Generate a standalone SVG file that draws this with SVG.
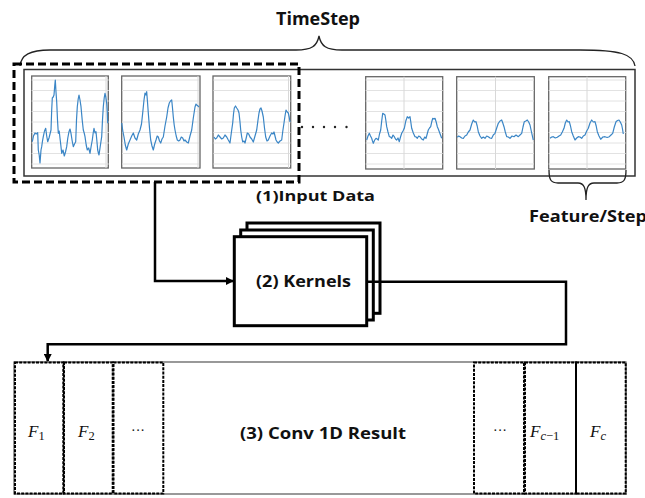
<svg xmlns="http://www.w3.org/2000/svg" width="645" height="498" viewBox="0 0 645 498">
<style>
.lbl{font-family:"Open Sans","Noto Sans",sans-serif;font-weight:bold;fill:#111;}
.math{font-family:"Liberation Serif","DejaVu Serif",serif;font-style:italic;fill:#111;font-size:17px;}
.sub{font-style:normal;font-size:12.5px;}
.subi{font-style:italic;font-size:12.5px;}
.plot{fill:#fff;stroke:#666;stroke-width:1.3;}
.grid{stroke:#e2e2e2;stroke-width:1;}
.vgrid{stroke:#d8d8d8;stroke-width:1;}
.sig{fill:none;stroke:#3b86c6;stroke-width:1.2;stroke-linejoin:round;}
.brace{fill:none;stroke:#222;stroke-width:1.3;}
.conn{fill:none;stroke:#000;stroke-width:2.5;}
.kern{fill:#fff;stroke:#000;stroke-width:3;}
.cell{fill:none;stroke:#000;stroke-width:2;stroke-dasharray:3 1.2;}
</style>
<defs>
<g id="hgrid">
<line class="grid" x1="0" y1="4" x2="77" y2="4"/>
<line class="grid" x1="0" y1="14.5" x2="77" y2="14.5"/>
<line class="grid" x1="0" y1="25" x2="77" y2="25"/>
<line class="grid" x1="0" y1="35.5" x2="77" y2="35.5"/>
<line class="grid" x1="0" y1="46" x2="77" y2="46"/>
<line class="grid" x1="0" y1="56.5" x2="77" y2="56.5"/>
<line class="grid" x1="0" y1="67" x2="77" y2="67"/>
<line class="grid" x1="0" y1="77.5" x2="77" y2="77.5"/>
<line class="grid" x1="0" y1="88" x2="77" y2="88"/>
</g>
<marker id="ah" markerWidth="8" markerHeight="8" refX="7" refY="4" orient="auto" markerUnits="userSpaceOnUse">
<path d="M0,0 L8,4 L0,8 Z" fill="#000"/>
</marker>
</defs>

<g id="timestep-label">
<text class="lbl" x="318" y="25" font-size="18" text-anchor="middle">TimeStep</text>
<path class="brace" d="M20,66 C21,55 30,50 50,50 H296 C312,50 317,46 319,36 C321,46 326,50 342,50 H580 C620,50 633,54 635,66"/>
</g>

<g id="input-data">
<rect x="24" y="69.5" width="611" height="106.5" fill="none" stroke="#333" stroke-width="1.5"/>

<g id="plot1">
<rect class="plot" x="31.7" y="76" width="76.6" height="92"/>
<use href="#hgrid" transform="translate(31.7,76)"/>
<line class="vgrid" x1="106" y1="76" x2="106" y2="168"/>
<polyline class="sig" points="32.3,141.7 33.5,136 35,133 36.2,134 37.7,132.7 38.3,150 39.2,155 40,163 41,150 41.7,146.7 42.5,141 43.3,136.7 44.5,131 45.7,128.3 46.7,136 47.7,141.7 49,138 50,134 51,130 51.7,110 52.3,98 53.2,97 54,95 54.8,85 55.3,80 56,92 56.7,101.7 57.5,120 58.3,133.3 59.2,131 60,138.3 60.8,145 61.7,153.3 63,150 64.3,156 65.5,152 66.7,146.7 67.8,138 69,131.7 70,129 71,133.3 72.2,141 73.3,146.7 74.5,144 75.7,141.7 76.5,120 77.3,106.7 78.2,99 79,95 80,100 81,106.7 82.2,120 83.3,130 84.2,133 85,136.7 86.2,145 87.3,150 88.7,148 90,153.3 91.2,146 92.3,140 93.2,133 94,128.3 95,133 96,131.7 96.8,140 97.7,150 98.4,153 99,155 100.3,146 101.7,136.7 102.5,120 103.3,106.7 104.2,98 105,93.3 105.8,97 106.7,103.3 107.3,112 107.7,123.3"/>
</g>

<g id="plot2">
<rect class="plot" x="121.7" y="76" width="78.3" height="92"/>
<use href="#hgrid" transform="translate(122,76)"/>
<line class="vgrid" x1="198" y1="76" x2="198" y2="168"/>
<polyline class="sig" points="121.7,123 122.8,131 124,137 125.3,145 126.7,150 128.3,144 130,140 131.7,136 133.3,133 135,138 136.7,140 138.3,134 140,130 141.5,124 142.7,113 144,100 145,93 146,95 146.7,91.7 147.5,102 148.3,113 149.5,128 150.7,140 152,146 153.3,150 154.7,144 156,140 157.2,136 158.3,137 159.5,141 160.7,143 162,139 163.3,137 165,126 166.7,117 168,108 169.3,103 170.5,101 171.7,100 172.5,108 173.3,117 174.2,125 175,130 176.2,136 177.3,140 178.7,141 180,140 181.3,137 182.7,138 184,141 185,140 186.7,142 188.3,143 190,136 191.7,130 193.3,118 195,107 196,104 196.7,105 198,106 199,107"/>
</g>

<g id="plot3">
<rect class="plot" x="213" y="76" width="77.7" height="92"/>
<use href="#hgrid" transform="translate(213.5,76)"/>
<line class="vgrid" x1="288.5" y1="76" x2="288.5" y2="168"/>
<polyline class="sig" points="214,137 215.3,139 216.7,138 218.3,135 220,137 221.7,139 223.3,138 225,135 226.7,137 228.3,140 230,143 231.3,133 232.7,123 233.5,114 234.3,108 235.5,106 236.7,108 238,110 239,113 240,122 240.7,130 241.7,137 242.7,142 244,141 245,143 246.2,138 247.3,133 248.7,134 250,137 251.7,139 253.3,142 255,136 256.7,130 258,120 259,113 260,109 261,108 262,111 263.3,117 264.5,128 265.7,137 267,141 268.3,140 270,136 271.7,133 273,134 274,132 275,136 276,140 277.2,142 278.3,143 280,141 281.7,140 282.8,131 284,123 285,116 286,110 287.2,112 288.3,113 289.2,117 290,122"/>
</g>

<g id="dots" fill="#222">
<circle cx="302" cy="127" r="1.2"/>
<circle cx="313" cy="127" r="1.2"/>
<circle cx="324" cy="127" r="1.2"/>
<circle cx="335" cy="127" r="1.2"/>
<circle cx="346.5" cy="127" r="1.2"/>
</g>

<g id="plot4">
<rect class="plot" x="365.7" y="76.7" width="77" height="92.3"/>
<use href="#hgrid" transform="translate(365.7,76)"/>
<line class="vgrid" x1="404" y1="76.7" x2="404" y2="169"/>
<polyline class="sig" points="366.7,140 368,136 369.3,133.3 370.5,136 371.7,138.3 372.5,141 373.3,143.3 374.7,140 376,138.3 377.2,139 378.3,140 379.5,134 380.7,130 381.7,121 382.7,113.3 383.8,114 385,115 385.8,120 386.7,126.7 388,132 389.3,136.7 390.5,137 391.7,138.3 393,135 394.3,136.7 395.5,139 396.7,140 398,138 399.3,141.7 400.5,137 401.7,133.3 403,131 404.3,128.3 405.8,121 407.3,116.7 408.7,118 410,116.7 410.8,122 411.7,128.3 413.3,133 415,136.7 416.2,137 417.3,138.3 418.7,136 420,136.7 421.7,139 423.3,140 424.7,137 426,138.3 427.2,134 428.3,130 429.5,128 430.7,126.7 431.7,122 432.7,118.3 434,119 435,118.3 436.2,122 437.3,126.7 438.3,129 439.3,131.7 440.5,135 441.7,138.3"/>
</g>

<g id="plot5">
<rect class="plot" x="456.7" y="76.7" width="77.6" height="92.3"/>
<use href="#hgrid" transform="translate(457,76)"/>
<line class="vgrid" x1="495.5" y1="76.7" x2="495.5" y2="169"/>
<polyline class="sig" points="457.3,137.3 458.7,136 460,136.7 461.7,138 463.3,138.3 465,136 466.7,135 468.3,132 470,130 471.7,124 473.3,120 474.7,122 476,121.7 477.2,126 478.3,131.7 480,136 481.7,138.3 483.3,137 485,138.3 486.7,136 488.3,136.7 490,138 491.7,138.3 493.3,135 495,133.3 496.7,128 498.3,123.3 500,121 501.7,120 502.8,123 504,126.7 505.3,132 506.7,136.7 508.3,137 510,138.3 512,136 514,136.7 516,135 518.3,136.7 520,135 521.7,133.3 523,127 524.3,121.7 525.8,121 527.3,120 528.7,122 530,125 531.7,133 533.3,140"/>
</g>

<g id="plot6">
<rect class="plot" x="548.7" y="76.7" width="77" height="92.3"/>
<use href="#hgrid" transform="translate(548.7,76)"/>
<line class="vgrid" x1="587" y1="76.7" x2="587" y2="169"/>
<polyline class="sig" points="550,138.3 551.7,137 553.3,136.7 555.3,138 557.3,137.3 559,136 560.7,135 562.3,132 564,128.3 565.3,123 566.7,120 568,122 569.3,121.7 570.5,126 571.7,131.7 573.3,136 575,140 576.7,138 578.3,136.7 580,137 581.7,138.3 583.3,136 585,135 586.7,131 588.3,128.3 590,123 591.7,120 593.3,122 595,121.7 596.2,126 597.3,131.7 599,136 600.7,139.3 602.8,137 605,136.7 607.2,137.5 609.3,136.7 611,135 612.7,133.3 614.3,127 616,121.7 617.5,120.5 619,120 620.3,122 621.7,125 622.5,129 623.3,134"/>
</g>

<rect x="14" y="64" width="285" height="118" fill="none" stroke="#000" stroke-width="3" stroke-dasharray="8 4"/>
<text class="lbl" x="256" y="201" font-size="15" textLength="119" lengthAdjust="spacingAndGlyphs">(1)Input Data</text>
</g>

<g id="feature-step">
<path class="brace" d="M549,170 C549,180 551,183 558,183 H578 C584,183 586,188 586,200 C586,188 588,183 594,183 H617 C624,183 626,180 626,170"/>
<text class="lbl" x="529" y="222" font-size="16" textLength="118" lengthAdjust="spacingAndGlyphs">Feature/Step</text>
</g>

<g id="kernels">
<rect class="kern" x="247" y="223" width="133" height="90.3"/>
<rect class="kern" x="240.7" y="230" width="132.6" height="90"/>
<rect class="kern" x="234.3" y="236.7" width="132.4" height="89"/>
<text class="lbl" x="256" y="287" font-size="16" textLength="95" lengthAdjust="spacingAndGlyphs">(2) Kernels</text>
</g>

<g id="connectors">
<path class="conn" d="M155,182 V281 H233" marker-end="url(#ah)"/>
<path class="conn" d="M367,281.7 H566 V344.3 H47.7 V361" marker-end="url(#ah)"/>
</g>

<g id="conv-result">
<rect x="14" y="362" width="612" height="132" fill="none" stroke="#555" stroke-width="1.2"/>
<rect class="cell" x="15" y="362.5" width="48.3" height="131"/>
<rect class="cell" x="64" y="362.5" width="48.7" height="131"/>
<rect class="cell" x="113.5" y="362.5" width="49.8" height="131"/>
<rect class="cell" x="474" y="362.5" width="50" height="131"/>
<rect class="cell" x="525" y="362.5" width="51" height="131"/>
<rect class="cell" x="576" y="362.5" width="49.7" height="131"/>
<line x1="576" y1="362" x2="576" y2="494" stroke="#000" stroke-width="2"/>
<text class="math" x="28" y="437">F<tspan class="sub" dy="3">1</tspan></text>
<text class="math" x="78" y="437">F<tspan class="sub" dy="3">2</tspan></text>
<text x="138" y="435" font-family="Liberation Serif,serif" font-size="14" text-anchor="middle" fill="#111">···</text>
<text class="lbl" x="240" y="439" font-size="16" textLength="166" lengthAdjust="spacingAndGlyphs">(3) Conv 1D Result</text>
<text x="500" y="435" font-family="Liberation Serif,serif" font-size="14" text-anchor="middle" fill="#111">···</text>
<text class="math" x="530" y="437">F<tspan class="subi" dy="3">c</tspan><tspan class="sub">−1</tspan></text>
<text class="math" x="590" y="437">F<tspan class="subi" dy="3">c</tspan></text>
</g>
</svg>
